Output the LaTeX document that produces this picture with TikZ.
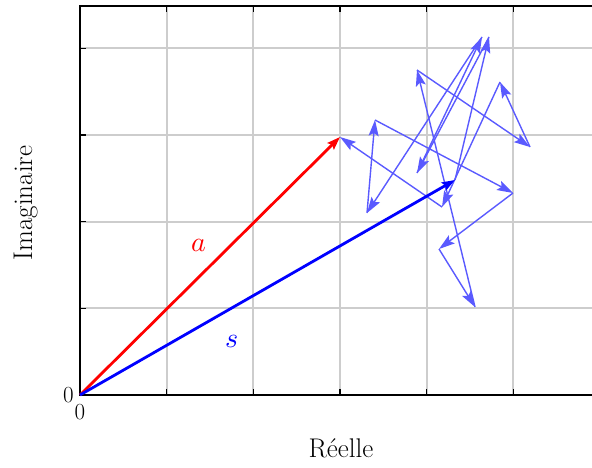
\documentclass[tikz,border=0pt]{standalone}
\usepackage{fontspec}
\usepackage{unicode-math}
\setmathfont{Latin Modern Math}
\usetikzlibrary{arrows.meta}
\definecolor{walkblue}{RGB}{90,90,255}
\definecolor{gridgray}{RGB}{205,205,205}
\tikzset{
  gridline/.style={draw=gridgray, line width=2pt},
  axisline/.style={draw=black, line width=1.8pt},
  tickmark/.style={draw=black, line width=1.6pt},
  mainvec/.style={line width=2.8pt, -{Stealth[length=13pt,width=9pt,inset=2pt]}},
  walkvec/.style={draw=walkblue, line width=1.4pt, -{Stealth[length=16pt,width=10pt,inset=3pt]}},
  axlabel/.style={font=\fontsize{27}{32}\selectfont},
  ticklabel/.style={font=\fontsize{23}{27}\selectfont, inner sep=0pt},
  veclabel/.style={font=\fontsize{28}{32}\selectfont, inner sep=0pt}
}
\begin{document}
\begin{tikzpicture}[x=1pt,y=-1pt]
\useasboundingbox (0,0) rectangle (592,468);
% grid
\foreach \gx in {166.67,253.33,340,426.67,513.33}
  \draw[gridline] (\gx,6) -- (\gx,395);
\foreach \gy in {48.33,135,221.67,308.33}
  \draw[gridline] (80,\gy) -- (592,\gy);
% ticks
\foreach \gx in {166.67,253.33,340,426.67,513.33} {
  \draw[tickmark] (\gx,6) -- (\gx,12);
  \draw[tickmark] (\gx,395) -- (\gx,389);
}
\foreach \gy in {48.33,135,221.67,308.33}
  \draw[tickmark] (80,\gy) -- (86,\gy);
% axes box
\draw[axisline] (592,6) -- (80,6) -- (80,395) -- (592,395);
% tick labels
\node[ticklabel, anchor=east] (t0y) at (74,395) {0};
\node[ticklabel, anchor=north] (t0x) at (80,404) {0};
% axis labels
\node[axlabel, anchor=base] (xlab) at (341,457) {Réelle};
\node[axlabel, anchor=base, rotate=90] (ylab) at (32,203) {Imaginaire};
% points
\coordinate (O) at (80,395);
\coordinate (A) at (340,137);
\coordinate (S) at (455,180);
\coordinate (T1) at (489,37);
\coordinate (V1) at (417,173);
\coordinate (T2) at (482,37);
\coordinate (V2) at (367,213);
\coordinate (V3) at (375,120);
\coordinate (V4) at (513,193);
\coordinate (V5) at (439,249);
\coordinate (V6) at (475,307);
\coordinate (V7) at (417,70);
\coordinate (V8) at (530,147);
\coordinate (V9) at (500,82);
\coordinate (V10) at (442,207);
% random walk
\draw[walkvec] (S) -- (T1);
\draw[walkvec] (T1) -- (V1);
\draw[walkvec] (V1) -- (T2);
\draw[walkvec] (T2) -- (V2);
\draw[walkvec] (V2) -- (V3);
\draw[walkvec] (V3) -- (V4);
\draw[walkvec] (V4) -- (V5);
\draw[walkvec] (V5) -- (V6);
\draw[walkvec] (V6) -- (V7);
\draw[walkvec] (V7) -- (V8);
\draw[walkvec] (V8) -- (V9);
\draw[walkvec] (V9) -- (V10);
\draw[walkvec] (V10) -- (A);
% main vectors
\draw[mainvec, red] (O) -- (A);
\draw[mainvec, blue] (O) -- (S);
\node[veclabel, text=red] (alab) at (199,245) {$a$};
\node[veclabel, text=blue] (slab) at (232,341) {$s$};
\end{tikzpicture}
\end{document}
